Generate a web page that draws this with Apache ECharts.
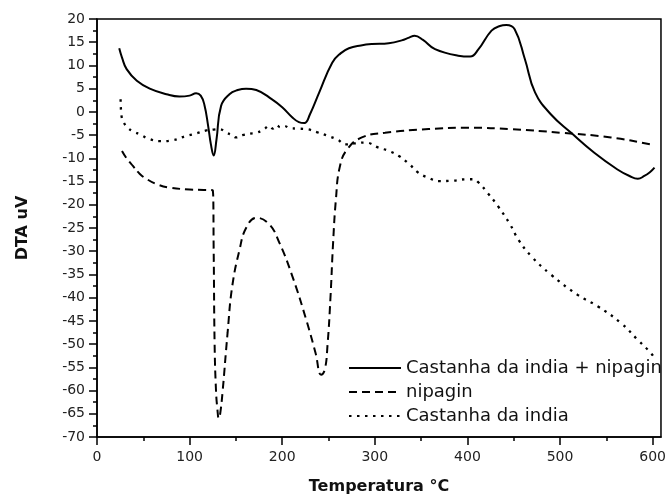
<!DOCTYPE html>
<html>
<head>
<meta charset="utf-8">
<script src="https://cdn.jsdelivr.net/npm/echarts@6/dist/echarts.min.js"></script>
<style>
    html, body { margin: 0; padding: 0; background: #fff; }
    #chart { width: 669px; height: 500px; }
</style>
</head>
<body>
<div id="chart"></div>
<script>
// Castanha da india + nipagin (solid)
const tempMix = [24, 27, 32, 43, 57, 75, 89, 100, 107, 112, 116, 120, 123, 126, 129, 134, 143, 152, 161, 172, 189, 200, 211, 218, 224, 230, 240, 254, 263, 272, 285, 297, 315, 329, 337, 343, 352, 365, 390, 403, 412, 426, 435, 442, 451, 462, 473, 490, 512, 537, 562, 575, 584, 591, 597, 602]
const dtaMix = [13.7, 11.7, 9.2, 6.7, 5.0, 3.8, 3.3, 3.5, 4.0, 3.5, 1.5, -3.0, -7.0, -9.4, -6.0, 1.3, 3.8, 4.7, 5.0, 4.7, 2.7, 1.0, -1.2, -2.2, -2.4, -0.5, 4.2, 10.6, 12.6, 13.7, 14.3, 14.6, 14.8, 15.4, 16.0, 16.4, 15.5, 13.5, 12.1, 11.9, 13.5, 17.5, 18.5, 18.7, 17.8, 11.4, 4.2, -0.5, -4.5, -8.8, -12.4, -13.8, -14.4, -13.8, -13.0, -12.0]

// nipagin (dashed)
const tempNipagin = [27, 32, 39, 46, 54, 65, 78, 100, 115, 125, 126, 127, 128.5, 130, 131.5, 133, 135.5, 141, 146, 154, 161, 172, 186, 197, 211, 226, 236, 242, 246, 249, 252, 255, 258, 262, 270, 286, 311, 358, 401, 447, 501, 555, 598, 602]
const dtaNipagin = [-8.4, -10.0, -11.7, -13.3, -14.5, -15.6, -16.3, -16.7, -16.8, -16.9, -30, -50, -60, -64, -66, -65, -60.5, -47.6, -37.6, -29.6, -25.0, -22.8, -24.2, -28.2, -35.4, -44.8, -51.9, -56.6, -55.5, -50, -40.4, -28, -18.8, -12, -8.1, -5.5, -4.5, -3.7, -3.4, -3.7, -4.5, -5.5, -7.0, -7.2]

// Castanha da india (dotted)
const tempCastanha = [25.5, 26.5, 29, 33, 40, 46, 56, 68, 82, 96, 108, 118, 126, 132, 140, 146, 150, 157, 165, 172, 180, 186, 190, 194, 198, 202, 208, 216, 226, 238, 250, 260, 268, 278, 290, 304, 315, 326, 337, 347, 358, 369, 385, 399, 406, 412, 422, 433, 446, 455, 469, 490, 519, 541, 566, 584, 598, 602]
const dtaCastanha = [2.7, -0.9, -2.3, -3.4, -4.3, -4.8, -5.8, -6.3, -6.1, -5.2, -4.6, -4.0, -3.8, -3.7, -4.5, -5.0, -5.5, -5.0, -4.7, -4.5, -3.8, -3.0, -3.6, -2.9, -3.3, -3.0, -3.5, -3.6, -3.7, -4.4, -5.2, -6.0, -7.0, -6.8, -6.6, -7.7, -8.4, -9.5, -11.2, -13.1, -14.2, -14.9, -14.8, -14.5, -14.5, -15.2, -17.5, -20.3, -24.2, -27.5, -31.1, -35.0, -39.4, -41.9, -45.5, -49.1, -51.9, -53.0]

const xTicks = [0, 100, 200, 300, 400, 500, 600]
const xMinorTicks = [50, 150, 250, 350, 450, 550]
const seriesNames = ['Castanha da india + nipagin', 'nipagin', 'Castanha da india']

function zip(xs, ys) {
    return xs.map((x, i) => [x, ys[i]])
}

let font = 'DejaVu Sans'
let chart = echarts.init(document.getElementById('chart'))

let lineSeries = (name, xs, ys, type, width) => ({
    name: name,
    type: 'line',
    data: zip(xs, ys),
    xAxisIndex: 0,
    symbol: 'none',
    smooth: 0.45,
    lineStyle: { color: '#000', width: width, type: type },
    itemStyle: { color: '#000' }
})

let option = {
    animation: false,
    backgroundColor: '#fff',
    grid: {
        left: 97, right: 6, top: 19, bottom: 63,
        show: true, borderColor: '#000', borderWidth: 1.5
    },
    legend: {
        orient: 'vertical',
        left: 343,
        top: 353,
        itemWidth: 52,
        itemHeight: 14,
        itemGap: 4,
        data: seriesNames,
        itemStyle: { opacity: 0 },
        textStyle: { fontFamily: font, fontSize: 18, color: '#111', lineHeight: 20 }
    },
    xAxis: [{
        type: 'value',
        min: 0,
        max: 609,
        interval: 100,
        name: 'Temperatura °C',
        nameLocation: 'middle',
        nameGap: 42,
        nameTextStyle: { fontFamily: font, fontSize: 16, fontWeight: 'bold', color: '#111' },
        axisLine: { onZero: false, lineStyle: { color: '#000', width: 1.5 } },
        axisTick: { inside: false, length: 8, customValues: xTicks, lineStyle: { color: '#000', width: 1.5 } },
        axisLabel: { customValues: xTicks, margin: 13, fontFamily: font, fontSize: 14, color: '#222' },
        splitLine: { show: false }
    }, {
        type: 'value',
        min: 0,
        max: 609,
        position: 'bottom',
        axisLine: { show: false, onZero: false },
        axisTick: { length: 4, customValues: xMinorTicks, lineStyle: { color: '#000', width: 1.5 } },
        axisLabel: { show: false },
        splitLine: { show: false }
    }],
    yAxis: {
        type: 'value',
        min: -70,
        max: 20,
        interval: 5,
        name: 'DTA uV',
        nameLocation: 'middle',
        nameGap: 66,
        nameTextStyle: { fontFamily: font, fontSize: 16, fontWeight: 'bold', color: '#111' },
        axisLine: { show: true, onZero: false, lineStyle: { color: '#000', width: 1.5 } },
        axisTick: { show: true, inside: false, length: 8, lineStyle: { color: '#000', width: 1.5 } },
        minorTick: { show: true, splitNumber: 2, length: 4, lineStyle: { color: '#000', width: 1.5 } },
        axisLabel: { margin: 12, fontFamily: font, fontSize: 14, color: '#222' },
        splitLine: { show: false }
    },
    series: [
        lineSeries(seriesNames[0], tempMix, dtaMix, 'solid', 2),
        lineSeries(seriesNames[1], tempNipagin, dtaNipagin, [8, 5], 2),
        lineSeries(seriesNames[2], tempCastanha, dtaCastanha, [2.5, 5.5], 2.3)
    ]
}

chart.setOption(option)
</script>
</body>
</html>
